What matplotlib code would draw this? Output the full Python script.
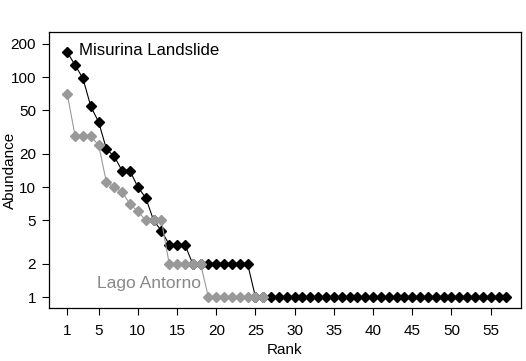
import matplotlib
matplotlib.use("Agg")
import matplotlib.pyplot as plt

plt.rcParams['font.family'] = ['Liberation Sans', 'DejaVu Sans']

# -----------------------------
# Data (rank-abundance)
# -----------------------------
misurina = [168, 128, 97, 54, 39, 22, 19, 14, 14, 10, 8, 5, 4, 3, 3, 3,
            2, 2, 2, 2, 2, 2, 2, 2] + [1] * 33
antorno = [70, 29, 29, 29, 24, 11, 10, 9, 7, 6, 5, 5, 5,
           2, 2, 2, 2, 2] + [1] * 8

misurina_rank = list(range(1, len(misurina) + 1))
antorno_rank = list(range(1, len(antorno) + 1))

y_ticks = [1, 2, 5, 10, 20, 50, 100, 200]
x_ticks = [1, 5, 10, 15, 20, 25, 30, 35, 40, 45, 50, 55]

# -----------------------------
# Plot
# -----------------------------
fig = plt.figure(figsize=(5.26, 3.61), dpi=100)
ax = fig.add_axes([0.0926, 0.1476, 0.8979, 0.7629])

ax.plot(misurina_rank, misurina, color='black', lw=0.8,
        marker='D', ms=5.5, mfc='black', mec='black')
ax.plot(antorno_rank, antorno, color='#999999', lw=0.8,
        marker='D', ms=5.5, mfc='#999999', mec='#999999')

ax.set_yscale('log')
ax.set_xlim(-1.37, 58.87)
ax.set_ylim(0.80, 255)
ax.set_yticks(y_ticks)
ax.set_yticklabels([str(v) for v in y_ticks])
ax.minorticks_off()
ax.set_xticks(x_ticks)

ax.tick_params(direction='out', length=5, width=0.8, labelsize=11, pad=4)
ax.tick_params(axis='x', pad=7)
for s in ax.spines.values():
    s.set_linewidth(0.9)

ax.set_xlabel("Rank", fontsize=11)
ax.set_ylabel("Abundance", fontsize=11)
ax.xaxis.label.set_va('center')
ax.yaxis.label.set_va('center')
ax.xaxis.set_label_coords(0.5, -0.154)
ax.yaxis.set_label_coords(-0.082, 0.5)

ax.text(2.5, 173, "Misurina Landslide", fontsize=12.1, va='center', ha='left')
ax.text(4.8, 1.34, "Lago Antorno", fontsize=12.6, va='center', ha='left',
        color='#888888')

fig.savefig("out.png", dpi=100)
